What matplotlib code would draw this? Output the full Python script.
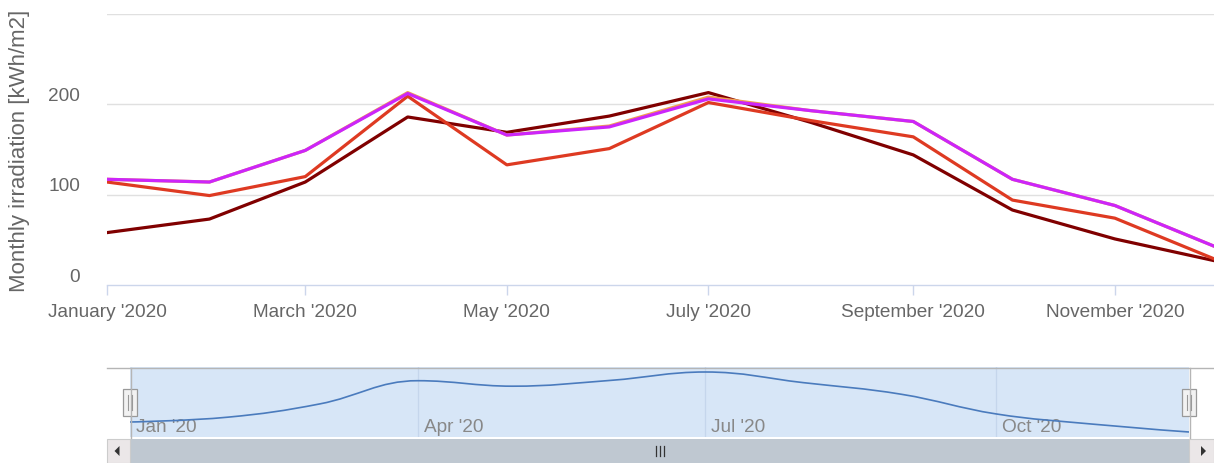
import numpy as np
import pandas as pd
import matplotlib
matplotlib.use("Agg")
import matplotlib.pyplot as plt
import matplotlib.dates as mdates
from matplotlib.path import Path
from matplotlib.patches import PathPatch, Rectangle, Polygon
from matplotlib.transforms import ScaledTranslation

plt.rcParams['font.family'] = ['Liberation Sans', 'DejaVu Sans']

# monthly irradiation [kWh/m2], 2020
months = pd.date_range("2020-01-01", periods=12, freq="MS")
dark_red = [58, 73, 114, 186, 169, 187, 213, 180, 144, 83, 51, 27]
red = [114, 99, 120, 209, 133, 151, 202, 182, 164, 94, 74, 29]
orange = [117, 114, 149, 213, 166, 176, 208, 193, 181, 117, 88, 43]
magenta = [117, 114, 149, 212, 166, 175, 206, 193, 181, 117, 88, 43]

y_ticks = [0, 100, 200]
grid_vals = [100, 200, 300]
nav_ticks = pd.to_datetime(["2020-01-01", "2020-04-01", "2020-07-01", "2020-10-01"])

W, H = 1214, 464
fig = plt.figure(figsize=(W / 100, H / 100), dpi=100)


def fx(px):
    return px / W


def fy(px):
    return 1 - px / H


# ---- main chart
ax = fig.add_axes([fx(107), fy(286), fx(1214 - 107), (286 - 15) / H])
for v in grid_vals:
    ax.axhline(v, color='#e0e0e0', lw=1.0, zorder=0)
ax.plot(months, dark_red, color='#800000', lw=2.3, zorder=3)
ax.plot(months, red, color='#de3a22', lw=2.3, zorder=3)
ax.plot(months, orange, color='#f0a050', lw=2.3, zorder=3)
ax.plot(months, magenta, color='#cc25fa', lw=2.3, zorder=3)
ax.set_xlim(months[0], months[-1])
ax.set_ylim(0, 300)
for s in ['top', 'right', 'left']:
    ax.spines[s].set_visible(False)
ax.spines['bottom'].set_color('#ccd6eb')
ax.spines['bottom'].set_linewidth(1.0)
ax.set_xticks(months[::2])
ax.xaxis.set_major_formatter(mdates.DateFormatter("%B '%Y"))
ax.tick_params(axis='x', colors='#ccd6eb', labelcolor='#666666', length=7.2,
               width=1.0, labelsize=13.7, pad=6)
ax.set_yticks([])
off = ScaledTranslation(-0.27, 0.09, fig.dpi_scale_trans)
for v in y_ticks:
    ax.text(0, v, str(v), transform=ax.get_yaxis_transform() + off,
            ha='right', va='center', fontsize=13.7, color='#666666')
fig.text(fx(20), fy(151), 'Monthly irradiation [kWh/m2]', rotation=90,
         ha='center', va='center', fontsize=16, color='#666666')

# ---- navigator
axn = fig.add_axes([fx(130), fy(438), fx(1189 - 130), 70 / H])
axn.set_facecolor('#d7e6f7')
axn.set_xlim(months[0], months[-1])
lo, hi = min(dark_red), max(dark_red)
r = hi - lo
axn.set_ylim(lo - r / 12, hi + r / 12)
for s in axn.spines.values():
    s.set_visible(False)
axn.set_xticks([])
axn.set_yticks([])
for t in nav_ticks[1:]:
    axn.axvline(t, color='#c5d6ec', lw=0.9, zorder=1)
loff = ScaledTranslation(0.06, 0, fig.dpi_scale_trans)
for t in nav_ticks:
    axn.text(t, 0.15, t.strftime("%b '%y"), transform=axn.get_xaxis_transform() + loff,
             ha='left', va='center', fontsize=13.7, color='#888888', zorder=2)

# spline through the first series (Highcharts style)
xs = mdates.date2num(months)
ys = np.array(dark_red, dtype=float)
sm = 1.5
n = len(xs)
lc = [None] * n
rc = [None] * n
for i in range(1, n - 1):
    lx = (sm * xs[i] + xs[i - 1]) / (sm + 1)
    ly = (sm * ys[i] + ys[i - 1]) / (sm + 1)
    rx = (sm * xs[i] + xs[i + 1]) / (sm + 1)
    ry = (sm * ys[i] + ys[i + 1]) / (sm + 1)
    corr = (ry - ly) * (rx - xs[i]) / (rx - lx) + ys[i] - ry
    ly += corr
    ry += corr
    if ly > ys[i - 1] and ly > ys[i]:
        ly = max(ys[i - 1], ys[i])
        ry = 2 * ys[i] - ly
    elif ly < ys[i - 1] and ly < ys[i]:
        ly = min(ys[i - 1], ys[i])
        ry = 2 * ys[i] - ly
    if ry > ys[i + 1] and ry > ys[i]:
        ry = max(ys[i + 1], ys[i])
        ly = 2 * ys[i] - ry
    elif ry < ys[i + 1] and ry < ys[i]:
        ry = min(ys[i + 1], ys[i])
        ly = 2 * ys[i] - ry
    lc[i] = (lx, ly)
    rc[i] = (rx, ry)
verts = [(xs[0], ys[0])]
codes = [Path.MOVETO]
for i in range(1, n):
    c1 = rc[i - 1] if rc[i - 1] is not None else (xs[i - 1], ys[i - 1])
    c2 = lc[i] if lc[i] is not None else (xs[i], ys[i])
    verts += [c1, c2, (xs[i], ys[i])]
    codes += [Path.CURVE4] * 3
axn.add_patch(PathPatch(Path(verts, codes), fc='none', ec='#4a7bbd', lw=1.2, zorder=3))

# ---- overlay: outline, handles, scrollbar (pixel coordinates)
ov = fig.add_axes([0, 0, 1, 1], zorder=5)
ov.set_xlim(0, W)
ov.set_ylim(H, 0)
ov.axis('off')
ov.plot([107, 1214], [368.5, 368.5], color='#b5b5b5', lw=1.0)
ov.plot([130.5, 130.5], [368.5, 439], color='#b5b5b5', lw=1.0)
ov.plot([1189.5, 1189.5], [368.5, 439], color='#b5b5b5', lw=1.0)
for hx in [123, 1182]:
    ov.add_patch(Rectangle((hx, 390), 14, 27, fc='#f2f2f2', ec='#999999', lw=0.9))
    for dx in [5, 8.5]:
        ov.plot([hx + dx, hx + dx], [396, 411], color='#999999', lw=0.8)

ov.add_patch(Rectangle((130, 440), 1059, 24, fc='#bfc8d1', ec='none'))
ov.add_patch(Rectangle((107, 440), 23, 24, fc='#ebe7e8', ec='#cccccc', lw=0.8))
ov.add_patch(Rectangle((1189, 440), 25, 24, fc='#ebe7e8', ec='#cccccc', lw=0.8))
ov.add_patch(Polygon([[114.5, 452], [119.5, 447], [119.5, 457]], closed=True, fc='#333333', ec='none'))
ov.add_patch(Polygon([[1206, 452], [1201, 447], [1201, 457]], closed=True, fc='#333333', ec='none'))
for gx in [655.5, 659.5, 663.5]:
    ov.plot([gx, gx], [447, 457], color='#333333', lw=0.9)

fig.savefig('out.png', dpi=100)
